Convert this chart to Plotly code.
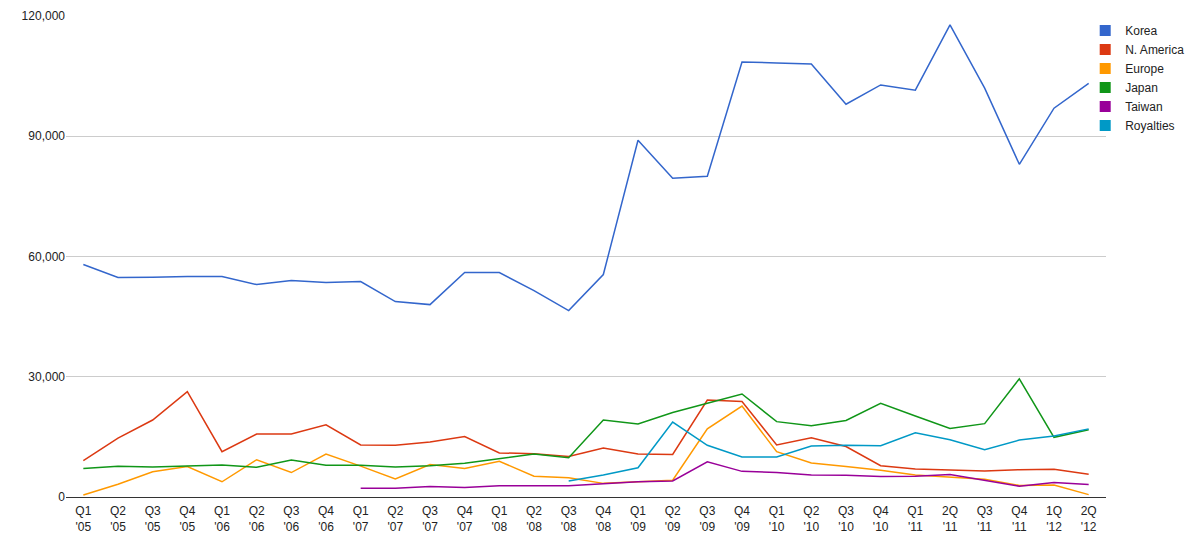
import plotly.graph_objects as go

quarters = ["Q1<br>'05", "Q2<br>'05", "Q3<br>'05", "Q4<br>'05", "Q1<br>'06", "Q2<br>'06", "Q3<br>'06", "Q4<br>'06",
            "Q1<br>'07", "Q2<br>'07", "Q3<br>'07", "Q4<br>'07", "Q1<br>'08", "Q2<br>'08", "Q3<br>'08", "Q4<br>'08",
            "Q1<br>'09", "Q2<br>'09", "Q3<br>'09", "Q4<br>'09", "Q1<br>'10", "Q2<br>'10", "Q3<br>'10", "Q4<br>'10",
            "Q1<br>'11", "2Q<br>'11", "Q3<br>'11", "Q4<br>'11", "1Q<br>'12", "2Q<br>'12"]

korea = [58000, 54750, 54800, 55000, 55000, 53000, 54000, 53500, 53750, 48750, 48000, 56000, 56000, 51500, 46500,
         55500, 89000, 79500, 80000, 108500, 108300, 108000, 98000, 102800, 101500, 117800, 102000, 83000, 97000, 103200]
n_america = [9100, 14700, 19200, 26300, 11300, 15700, 15700, 18000, 13000, 12900, 13700, 15100, 11000, 10800, 10100,
             12200, 10700, 10600, 24200, 23800, 13000, 14800, 12600, 7800, 7000, 6800, 6500, 6800, 6900, 5700]
europe = [500, 3200, 6300, 7600, 3800, 9300, 6100, 10700, 7700, 4500, 8100, 7100, 8900, 5200, 4800,
          3400, 3800, 4200, 17000, 22700, 11300, 8500, 7600, 6700, 5500, 4900, 4400, 2900, 3000, 600]
japan = [7100, 7700, 7500, 7800, 8000, 7400, 9200, 7900, 7900, 7500, 7800, 8400, 9600, 10700, 9800,
         19200, 18200, 21100, 23400, 25700, 18800, 17800, 19100, 23400, 20200, 17100, 18300, 29500, 14900, 16800]
taiwan = [None] * 8 + [2200, 2200, 2600, 2400, 2800, 2800, 2800, 3300, 3800, 4000, 8800, 6400, 6100, 5500, 5400,
                       5100, 5200, 5600, 4200, 2700, 3600, 3100]
royalties = [None] * 14 + [4000, 5500, 7300, 18700, 12900, 10000, 10000, 12700, 12900, 12800, 16000, 14300, 11800,
                           14200, 15200, 17000]

series = [("Korea", korea, "#3366cc"), ("N. America", n_america, "#dc3912"), ("Europe", europe, "#ff9900"),
          ("Japan", japan, "#109618"), ("Taiwan", taiwan, "#990099"), ("Royalties", royalties, "#0099c6")]

fig = go.Figure()
for name, vals, color in series:
    fig.add_trace(go.Scatter(x=quarters, y=vals, mode="lines", name=name, showlegend=False,
                             line=dict(color=color, width=1.5)))
# square legend swatches like the original
for name, vals, color in series:
    fig.add_trace(go.Scatter(x=[None], y=[None], mode="markers", name=name,
                             marker=dict(symbol="square", size=11, color=color)))

fig.update_layout(
    width=1200, height=537,
    plot_bgcolor="white", paper_bgcolor="white",
    margin=dict(l=58, r=102, t=8, b=48, autoexpand=False),
    font=dict(family="Arial, Liberation Sans", size=12, color="#222"),
    legend=dict(x=0.98, y=1.0, xanchor="left", yanchor="top", font=dict(size=12), tracegroupgap=2,
                itemwidth=30, bgcolor="rgba(0,0,0,0)"),
    xaxis=dict(showgrid=False, tickfont=dict(size=12), showline=False, ticks="", automargin=False,
               range=[-0.5, 29.5], ticklabelstandoff=5),
    yaxis=dict(range=[0, 120000], tickvals=[0, 30000, 60000, 90000, 120000], tickformat=",",
               gridcolor="#cccccc", zeroline=True, zerolinecolor="#333333", zerolinewidth=1,
               tickfont=dict(size=12), automargin=False),
)

fig.write_html("out.html")
